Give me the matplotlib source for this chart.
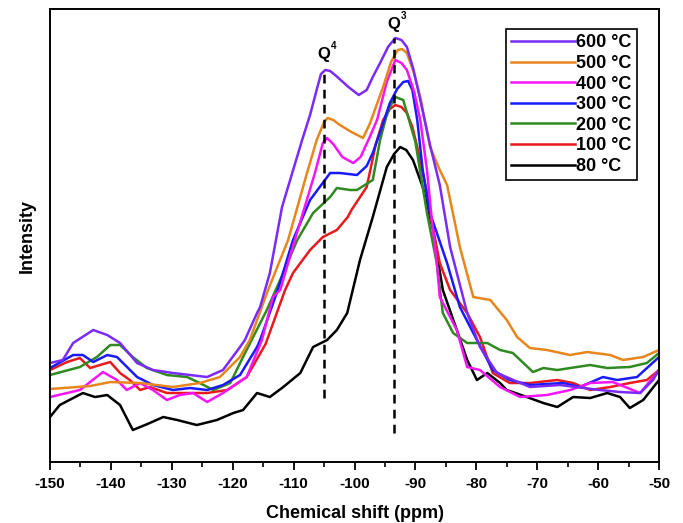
import matplotlib
matplotlib.use('Agg')
import matplotlib.pyplot as plt
from matplotlib.ticker import MultipleLocator

plt.rcParams['font.family'] = ['Liberation Sans', 'DejaVu Sans']
plt.rcParams['font.weight'] = 'bold'
plt.rcParams['axes.unicode_minus'] = False

# spectra (ppm, arbitrary intensity)
ppm_600 = [-150, -147.9, -146.2, -142.9, -140.6, -138.5, -135.7, -133.1, -129.8, -127, -124.2, -121.6,
           -118.8, -118, -116, -115.5, -113.9, -111.9, -108.6, -107.3, -106, -105.5, -104.8, -104, -103,
           -101, -99.3, -98, -97, -95.8, -94.5, -93.3, -92.3, -91.4, -90.3, -89.2, -87.6, -86, -84.3,
           -81.5, -79.4, -76.6, -71.2, -66.3, -59.7, -56.4, -53.1, -51, -50]
int_600 = [99, 102, 119, 132, 127, 119, 99, 92, 89, 87, 85, 92,
           115, 122, 149, 155, 189, 255, 322, 347, 377, 388, 392, 391, 386,
           375, 367, 372, 385, 399, 415, 424, 422, 415, 392, 362, 317, 277, 215,
           149, 115, 89, 75, 77, 72, 70, 69, 82, 92]

ppm_500 = [-150, -143.4, -140.1, -135.2, -129.8, -125.4, -122.1, -118.8, -117.2, -116, -114.2, -110.9,
           -107.8, -106.2, -105, -104.4, -103.5, -102.4, -100.5, -98.6, -97.5, -95.3, -94, -92.9, -92.2,
           -91.4, -90.3, -89.2, -87.6, -86, -84.8, -82.7, -80.5, -77.7, -75, -73.3, -71.2, -68.4,
           -64.6, -61.8, -58, -55.9, -52.6, -50]
int_500 = [73, 76, 80, 79, 75, 79, 85, 105, 122, 142, 172, 222,
           289, 322, 340, 344, 342, 337, 330, 324, 338, 375, 400, 412, 413,
           409, 390, 365, 315, 292, 277, 215, 165, 162, 142, 125, 114, 112,
           107, 110, 107, 102, 105, 112]

ppm_400 = [-150, -145.1, -141.3, -139, -137.4, -135.2, -133.1, -130.8, -128.7, -126.5, -124.2, -121.6,
           -117.7, -115.2, -113.4, -112.2, -109.8, -106.5, -105.2, -104.5, -103.5, -102, -100.2, -99,
           -97.5, -96.3, -94.7, -93.3, -92.3, -91.4, -90.2, -89.2, -88.1, -87.3, -86.5, -86, -83.2,
           -81.5, -79.4, -76.1, -72.8, -68.4, -64.6, -61.3, -57.6, -53.1, -50]
int_400 = [65, 72, 90, 82, 72, 79, 72, 62, 67, 69, 60, 69,
           85, 122, 165, 172, 222, 289, 319, 324, 318, 305, 299, 305,
           325, 342, 380, 402, 399, 392, 370, 342, 292, 242, 200, 165, 132,
           95, 92, 75, 65, 67, 72, 79, 80, 69, 92]

ppm_300 = [-150, -146.2, -144.6, -142.9, -140.6, -139, -135.7, -133.1, -129.8, -127, -124.2, -121.6,
           -118.8, -116, -115.5, -112.6, -110.1, -107.3, -104, -102.4, -99.6, -98, -97, -95.5, -94.2,
           -93, -92, -91.2, -90.5, -89.7, -88.8, -87.6, -84.8, -82.7, -79.9, -77.3, -74.5, -71.2,
           -65.8, -63, -59.2, -56.9, -53.6, -50]
int_300 = [94, 107, 107, 100, 107, 105, 85, 77, 72, 74, 72, 77,
           87, 115, 122, 172, 222, 262, 289, 289, 287, 296, 309, 335, 359,
           373, 380, 381, 372, 342, 292, 249, 199, 155, 122, 92, 82, 77,
           79, 75, 85, 82, 85, 105]

ppm_200 = [-150, -145.1, -142.3, -140.1, -138.5, -136.4, -134.1, -130.8, -127.5, -125.4, -123.2, -120.4,
           -118.3, -114.4, -111.7, -109.4, -106.8, -104, -102.9, -100.7, -99.6, -97, -95.8, -94.8,
           -94.2, -93.3, -92, -90, -88.1, -86.5, -85.5, -83.8, -81.5, -78.2, -76.1, -74, -70.7, -69,
           -66.7, -63.5, -61.3, -58.5, -54.8, -52, -50]
int_200 = [87, 95, 105, 117, 117, 105, 94, 87, 85, 79, 72, 79,
           105, 152, 189, 222, 249, 265, 274, 272, 272, 282, 322, 345,
           355, 365, 362, 320, 249, 199, 149, 129, 119, 119, 112, 109, 90, 94,
           92, 95, 97, 94, 95, 99, 109]

ppm_100 = [-150, -147.2, -145.1, -143.4, -141.8, -140.1, -138.5, -136.9, -135.2, -133.6, -130.8, -127.5,
           -124.2, -120.9, -117.7, -114.6, -111.4, -110.1, -107.3, -105.2, -102.9, -101.1, -100.5, -98,
           -96.5, -95.3, -94.2, -93.3, -92.3, -91.4, -90.5, -89.7, -88.1, -87.6, -86, -84.3, -81.5,
           -79.4, -77.3, -74.5, -71.2, -66.7, -64.1, -61.3, -58, -54.8, -52, -50]
int_100 = [92, 100, 104, 94, 97, 100, 89, 82, 72, 75, 69, 69,
           69, 72, 85, 118, 172, 189, 212, 225, 232, 245, 252, 275,
           318, 342, 353, 357, 355, 349, 335, 315, 269, 249, 199, 172, 149,
           125, 89, 79, 79, 82, 79, 72, 75, 79, 82, 92]

ppm_80 = [-150, -148.4, -144.6, -142.6, -140.6, -138.5, -136.4, -134, -131.4, -129.1, -125.9, -122.6,
          -119.9, -118.3, -116, -113.9, -111.7, -108.9, -106.8, -104.5, -102.9, -101.2, -99.1, -97,
          -94.7, -93.5, -92.5, -91.5, -90.4, -88.8, -87.1, -85.5, -83.2, -81.5, -79.9, -78.2, -76.1,
          -75, -71.7, -69, -66.7, -64.1, -61.3, -58.5, -56.4, -54.8, -52.6, -50]
int_80 = [45, 57, 69, 65, 67, 57, 32, 38, 45, 42, 37, 42,
          49, 52, 69, 65, 75, 89, 115, 122, 132, 149, 202, 245,
          295, 308, 315, 312, 302, 275, 232, 172, 132, 102, 82, 89, 79,
          72, 65, 59, 55, 65, 64, 69, 65, 54, 62, 82]

labels = ['600 \u00b0C', '500 \u00b0C', '400 \u00b0C', '300 \u00b0C', '200 \u00b0C', '100 \u00b0C', '80 \u00b0C']
colors = ['#7B2BF9', '#E8861E', '#F515F5', '#1A1AFF', '#2F8A1F', '#E81A1E', '#000000']
series = [(ppm_600, int_600), (ppm_500, int_500), (ppm_400, int_400), (ppm_300, int_300),
          (ppm_200, int_200), (ppm_100, int_100), (ppm_80, int_80)]

# Q4 / Q3 marker positions
q_pos = [-105, -93.5]
q_low = [64, 29]
q_high = [394, 424]
q_names = ['4', '3']

fig = plt.figure(figsize=(6.83, 5.23), dpi=100)
ax = fig.add_axes([0.0732, 0.1166, 0.8917, 0.8662])

# draw back to front so 600 ends on top
for (x, y), lab, c in reversed(list(zip(series, labels, colors))):
    ax.plot(x, y, color=c, lw=1.8, label=lab, solid_joinstyle='round')

for xq, lo, hi, n in zip(q_pos, q_low, q_high, q_names):
    ax.plot([xq, xq], [lo, hi], color='black', lw=1.8, ls=(0, (3.5, 2.5)))
    ax.text(xq, hi + 6, 'Q', ha='center', va='bottom', fontsize=12, fontweight='bold')
    ax.text(xq + 1.1, hi + 17, n, ha='left', va='bottom', fontsize=7, fontweight='bold')

ax.set_xlim(-150, -50)
ax.set_ylim(0, 453)
ax.xaxis.set_major_locator(MultipleLocator(10))
ax.xaxis.set_minor_locator(MultipleLocator(5))
ax.tick_params(axis='x', which='major', direction='out', length=6, width=1.3, labelsize=11, pad=5)
ax.tick_params(axis='x', which='minor', direction='out', length=3.5, width=1.2)
ax.set_yticks([])
for s in ax.spines.values():
    s.set_linewidth(1.4)

ax.set_xlabel('Chemical shift (ppm)', fontsize=13, fontweight='bold', labelpad=10)
ax.set_ylabel('Intensity', fontsize=13, fontweight='bold', labelpad=10)

handles, labs = ax.get_legend_handles_labels()
leg = ax.legend(handles[::-1], labs[::-1], loc='upper right', bbox_to_anchor=(0.964, 0.956),
                borderaxespad=0, fontsize=13, handlelength=3.5, handletextpad=0.1,
                labelspacing=0.2, fancybox=False, framealpha=1, borderpad=0.3)
leg.get_frame().set_edgecolor('black')
leg.get_frame().set_linewidth(1.2)

plt.savefig('out.png', dpi=100)
plt.close()
